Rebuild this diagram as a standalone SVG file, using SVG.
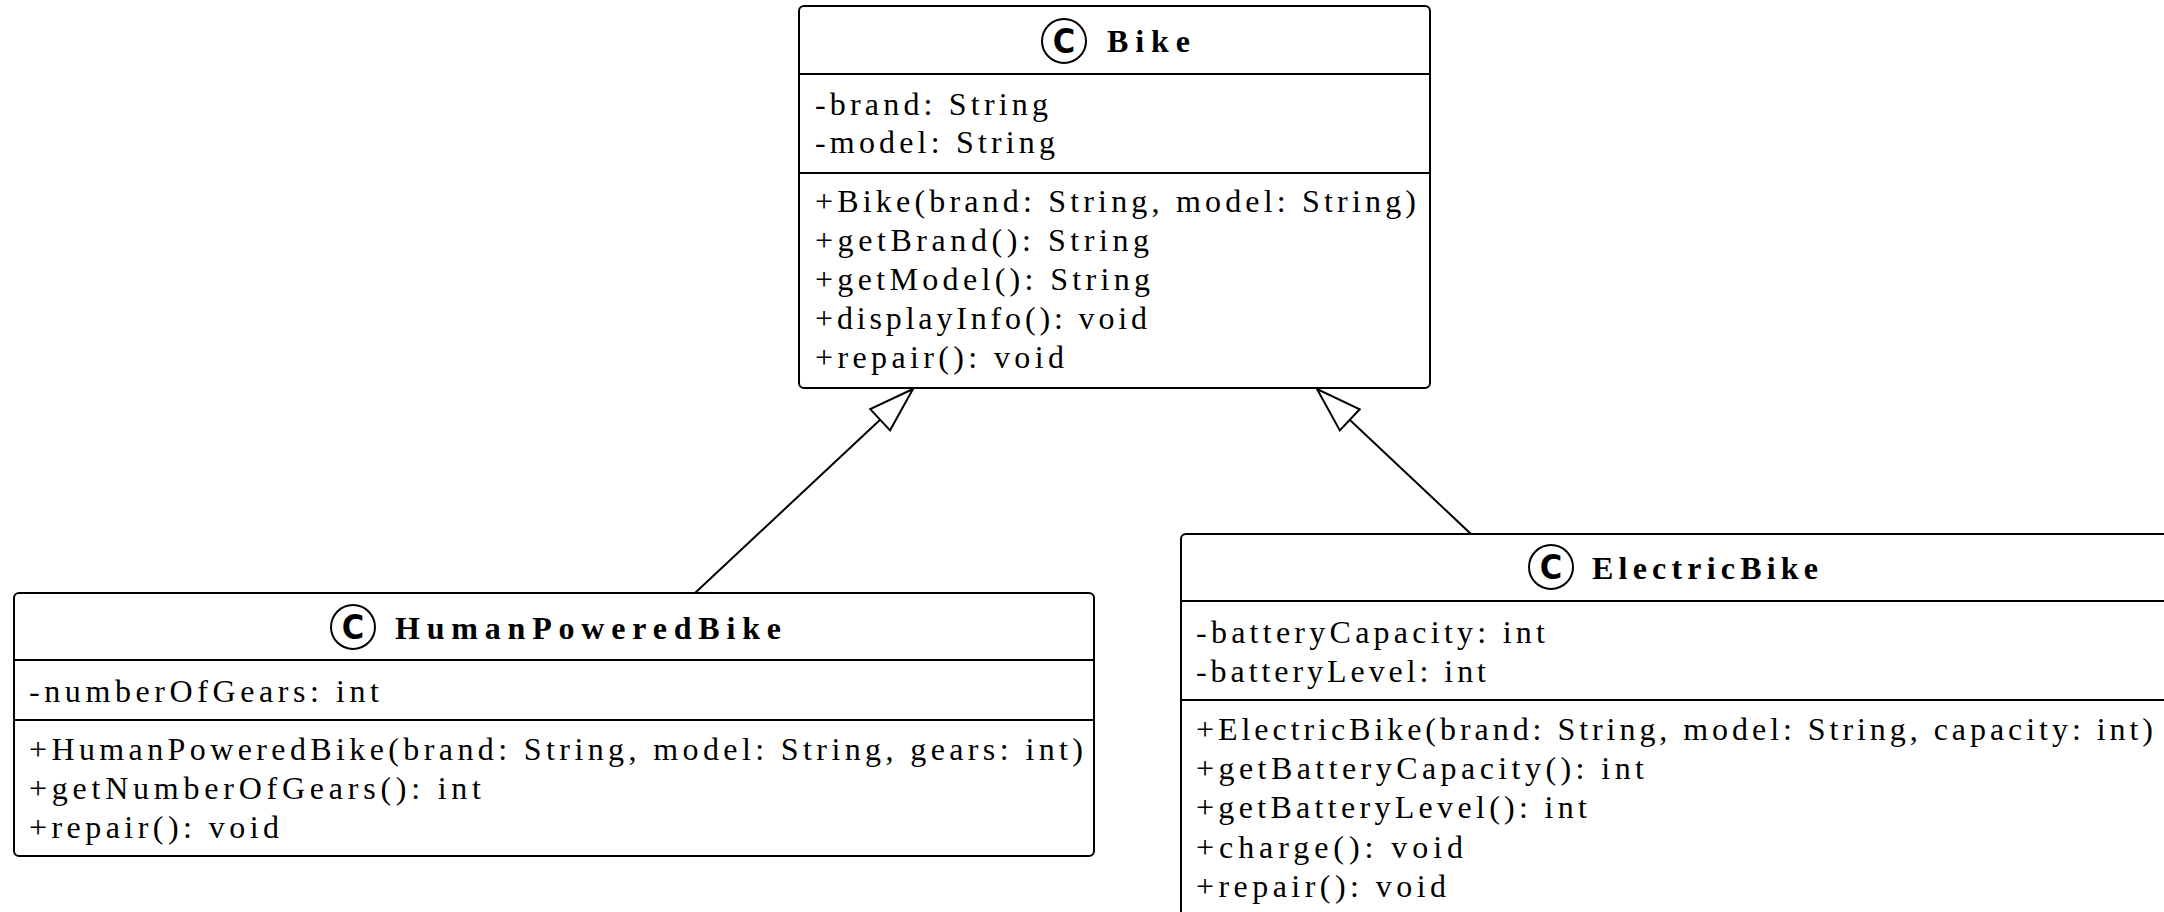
<svg xmlns="http://www.w3.org/2000/svg" width="2164" height="912" viewBox="0 0 2164 912">
<style>
.box{fill:#fff;stroke:#000;stroke-width:2}
.sep{stroke:#000;stroke-width:2}
.t{font-family:"Liberation Serif","Times New Roman",serif;font-size:32px;fill:#000}
.title{font-family:"Liberation Serif","Times New Roman",serif;font-size:32px;font-weight:bold;fill:#000}
.circ{fill:#fff;stroke:#000;stroke-width:2}
.cl{font-family:"DejaVu Sans Condensed","Liberation Sans",Arial,sans-serif;font-size:34px;font-weight:bold;fill:#000;text-anchor:middle}
.edge{fill:none;stroke:#000;stroke-width:2}
</style>
<defs>
<marker id="tri" markerUnits="userSpaceOnUse" viewBox="-2 -2 50 34" refX="45" refY="14.5" markerWidth="50" markerHeight="34" orient="auto">
<path d="M45,14.5 L0,0 L0,29 Z" fill="#fff" stroke="#000" stroke-width="2" stroke-linejoin="miter"/>
</marker>
</defs>
<rect width="2164" height="912" fill="#fff"/>
<g id="connectors">
<line class="edge" x1="695" y1="593" x2="913" y2="389" marker-end="url(#tri)"/>
<line class="edge" x1="1471" y1="534" x2="1317" y2="389" marker-end="url(#tri)"/>
</g>
<g id="Bike">
<rect class="box" x="799" y="6" width="631" height="382" rx="5"/>
<line class="sep" x1="799" y1="74" x2="1430" y2="74"/>
<line class="sep" x1="799" y1="173" x2="1430" y2="173"/>
<circle class="circ" cx="1064" cy="41" r="22"/>
<text class="cl" x="1064" y="53">C</text>
<text class="title" x="1107" y="52" textLength="83" lengthAdjust="spacing">Bike</text>
<text class="t" x="815" y="115" textLength="233" lengthAdjust="spacing">-brand: String</text>
<text class="t" x="815" y="153" textLength="240" lengthAdjust="spacing">-model: String</text>
<text class="t" x="815" y="212" textLength="601" lengthAdjust="spacing">+Bike(brand: String, model: String)</text>
<text class="t" x="815" y="251" textLength="334" lengthAdjust="spacing">+getBrand(): String</text>
<text class="t" x="815" y="290" textLength="335" lengthAdjust="spacing">+getModel(): String</text>
<text class="t" x="815" y="329" textLength="332" lengthAdjust="spacing">+displayInfo(): void</text>
<text class="t" x="815" y="368" textLength="249" lengthAdjust="spacing">+repair(): void</text>
</g>
<g id="HumanPoweredBike">
<rect class="box" x="14" y="593" width="1080" height="263" rx="5"/>
<line class="sep" x1="14" y1="660" x2="1094" y2="660"/>
<line class="sep" x1="14" y1="720" x2="1094" y2="720"/>
<circle class="circ" cx="353" cy="627" r="22"/>
<text class="cl" x="353" y="639">C</text>
<text class="title" x="395" y="639" textLength="386" lengthAdjust="spacing">HumanPoweredBike</text>
<text class="t" x="29" y="702" textLength="350" lengthAdjust="spacing">-numberOfGears: int</text>
<text class="t" x="29" y="760" textLength="1054" lengthAdjust="spacing">+HumanPoweredBike(brand: String, model: String, gears: int)</text>
<text class="t" x="29" y="799" textLength="452" lengthAdjust="spacing">+getNumberOfGears(): int</text>
<text class="t" x="29" y="838" textLength="250" lengthAdjust="spacing">+repair(): void</text>
</g>
<g id="ElectricBike">
<rect class="box" x="1181" y="534" width="1000" height="400" rx="5"/>
<line class="sep" x1="1181" y1="601" x2="2181" y2="601"/>
<line class="sep" x1="1181" y1="700" x2="2181" y2="700"/>
<circle class="circ" cx="1551" cy="567" r="22"/>
<text class="cl" x="1551" y="579">C</text>
<text class="title" x="1592" y="579" textLength="226" lengthAdjust="spacing">ElectricBike</text>
<text class="t" x="1196" y="643" textLength="349" lengthAdjust="spacing">-batteryCapacity: int</text>
<text class="t" x="1196" y="682" textLength="290" lengthAdjust="spacing">-batteryLevel: int</text>
<text class="t" x="1196" y="740" textLength="957" lengthAdjust="spacing">+ElectricBike(brand: String, model: String, capacity: int)</text>
<text class="t" x="1196" y="779" textLength="448" lengthAdjust="spacing">+getBatteryCapacity(): int</text>
<text class="t" x="1196" y="818" textLength="391" lengthAdjust="spacing">+getBatteryLevel(): int</text>
<text class="t" x="1196" y="858" textLength="267" lengthAdjust="spacing">+charge(): void</text>
<text class="t" x="1196" y="897" textLength="250" lengthAdjust="spacing">+repair(): void</text>
</g>
</svg>
